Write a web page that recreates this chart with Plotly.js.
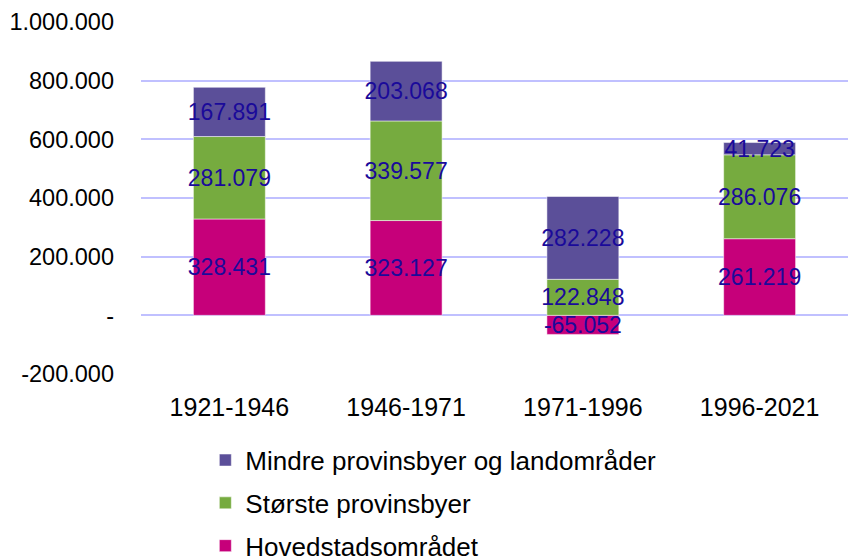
<!DOCTYPE html>
<html>
<head>
<meta charset="utf-8">
<script src="https://cdn.plot.ly/plotly-3.0.1.min.js"></script>
<style>html,body{margin:0;padding:0;background:#fff;}#chart{width:848px;height:560px;}</style>
</head>
<body>
<div id="chart"></div>
<script>
const categories = ["1921-1946", "1946-1971", "1971-1996", "1996-2021"];
const hovedstad = [328431, 323127, -65052, 261219];
const stoerste = [281079, 339577, 122848, 286076];
const mindre = [167891, 203068, 282228, 41723];
const seriesNames = ["Hovedstadsområdet", "Største provinsbyer", "Mindre provinsbyer og landområder"];
const yTicks = [-200000, 0, 200000, 400000, 600000, 800000, 1000000];

function fmt(v) {
  if (v === 0) return "-";
  const s = Math.abs(v).toString().replace(/\B(?=(\d{3})+(?!\d))/g, ".");
  return (v < 0 ? "-" : "") + s;
}

const colors = ["#C6007A", "#76AB3F", "#5B4F99"];
const seriesData = [hovedstad, stoerste, mindre];

const traces = seriesData.map((vals, i) => ({
  type: "bar",
  x: categories,
  y: vals,
  name: seriesNames[i],
  legendgroup: "g" + i,
  legendrank: 100 - i,
  text: vals.map(fmt),
  textposition: "inside",
  insidetextanchor: "middle",
  constraintext: "none",
  textangle: 0,
  textfont: {family: "Liberation Sans, Arial, sans-serif", size: 23, color: "#1A0A9A"},
  marker: {color: colors[i], line: {color: "rgba(255,255,255,0.5)", width: 1}},
  hoverinfo: "skip"
}));

const layout = {
  width: 848,
  height: 560,
  margin: {l: 141, r: 0, t: 22, b: 186, pad: 0, autoexpand: false},
  barmode: "relative",
  bargap: 0.593,
  paper_bgcolor: "#fff",
  plot_bgcolor: "#fff",
  font: {family: "Liberation Sans, Arial, sans-serif", color: "#000"},
  xaxis: {
    type: "category",
    automargin: false,
    showgrid: false,
    zeroline: false,
    showline: false,
    ticks: "",
    ticklabelstandoff: 16,
    tickfont: {size: 25, color: "#000"}
  },
  yaxis: {
    automargin: false,
    range: [-200000, 1000000],
    tickvals: yTicks,
    ticktext: yTicks.map(fmt),
    showgrid: true,
    gridcolor: "#C0C0FF",
    gridwidth: 2,
    zeroline: false,
    showline: false,
    ticks: "",
    ticklabelstandoff: 26,
    tickfont: {size: 23.5, color: "#000"}
  },
  showlegend: true,
  legend: {
    orientation: "v",
    traceorder: "grouped",
    tracegroupgap: 6,
    x: 0.091,
    xanchor: "left",
    y: -0.178,
    yanchor: "top",
    font: {size: 26, color: "#000"},
    bgcolor: "rgba(0,0,0,0)"
  }
};

Plotly.newPlot("chart", traces, layout, {displayModeBar: false, staticPlot: true});
</script>
</body>
</html>
